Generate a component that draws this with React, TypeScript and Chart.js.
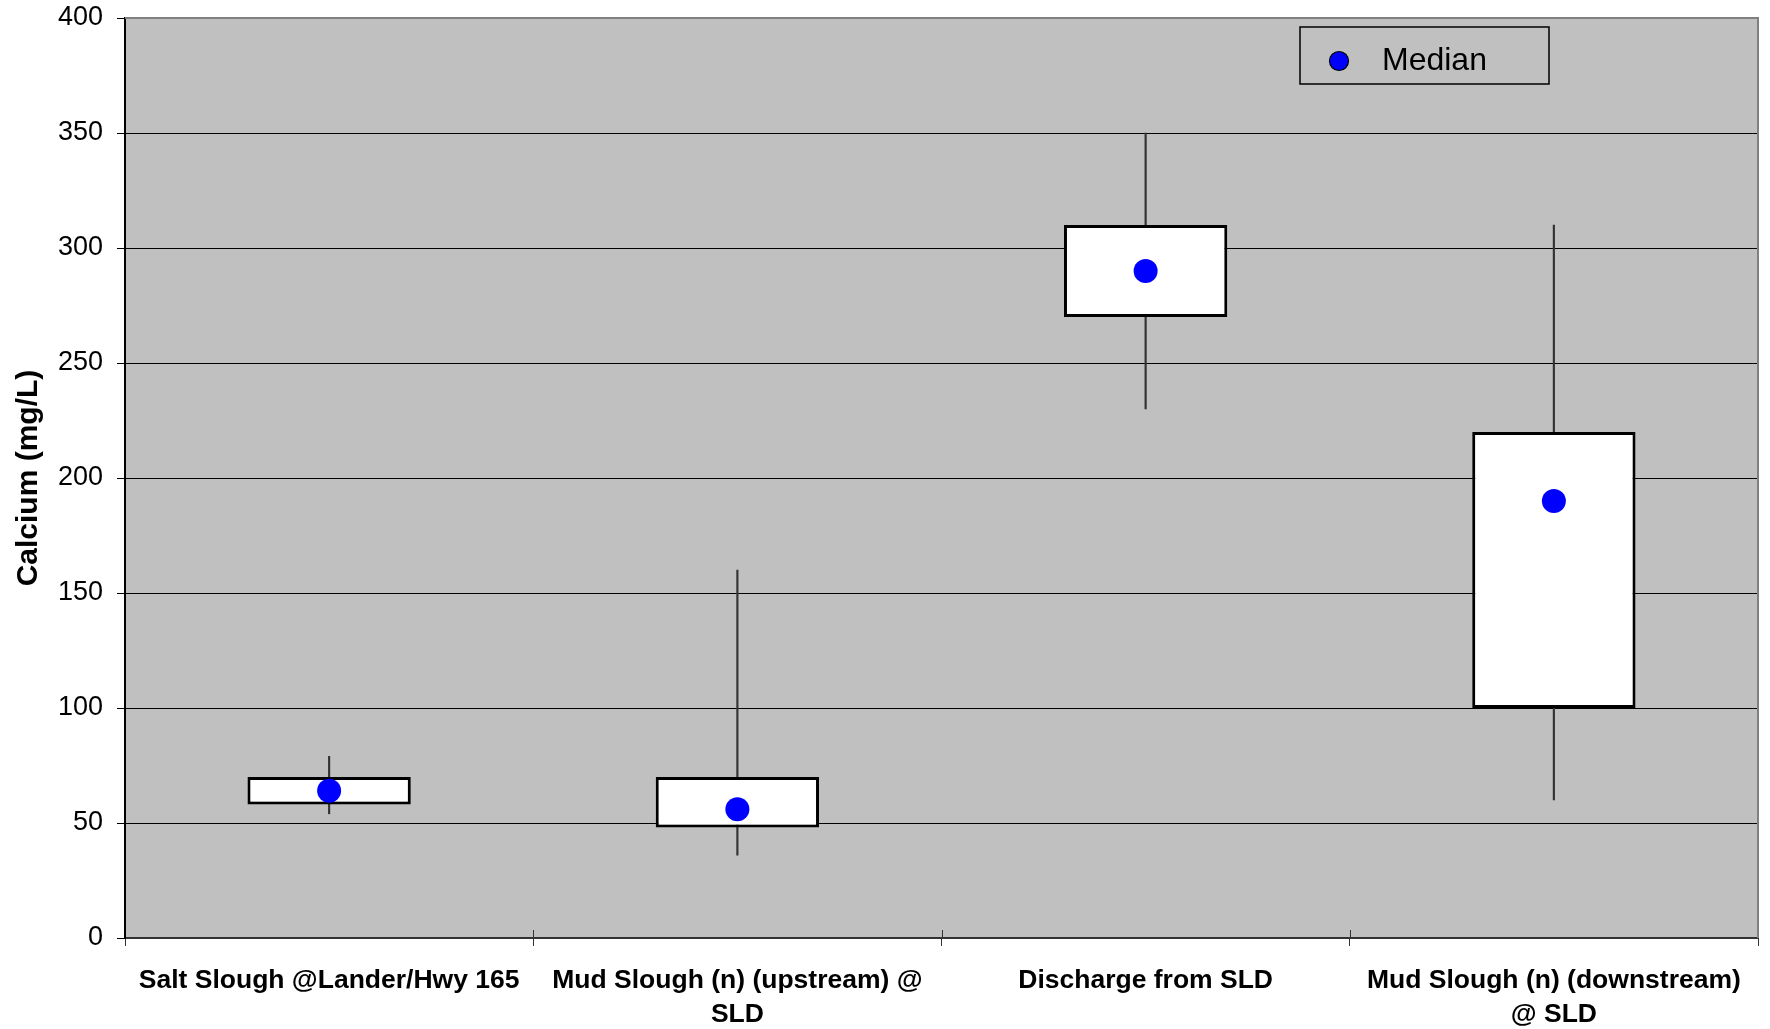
import React, { useEffect, useRef } from 'react';
import { Chart, registerables } from 'chart.js';

Chart.register(...registerables);

const FONT = '"Liberation Sans", Arial, sans-serif';

const categories: (string | string[])[] = [
  'Salt Slough @Lander/Hwy 165',
  ['Mud Slough (n) (upstream) @', 'SLD'],
  'Discharge from SLD',
  ['Mud Slough (n) (downstream)', '@ SLD'],
];
const whiskerMin = [54, 36, 230, 60];
const whiskerMax = [79, 160, 350, 310];
const boxLow = [58, 48, 270, 100];
const boxHigh = [70, 70, 310, 220];
const medians = [64, 56, 290, 190];
const yMin = 0;
const yMax = 400;
const yStep = 50;
const legendLabel = 'Median';

const decorPlugin = {
  id: 'decor',
  beforeDraw(chart: any) {
    const { ctx, chartArea: a } = chart;
    ctx.save();
    ctx.fillStyle = '#C0C0C0';
    ctx.fillRect(a.left, a.top, a.right - a.left, a.bottom - a.top);
    ctx.restore();
  },
  afterDraw(chart: any) {
    const { ctx, chartArea: a } = chart;
    const xs = chart.scales.x;
    ctx.save();
    // top & right border
    ctx.strokeStyle = '#808080';
    ctx.lineWidth = 2;
    ctx.beginPath();
    ctx.moveTo(a.left, a.top);
    ctx.lineTo(a.right, a.top);
    ctx.lineTo(a.right, a.bottom);
    ctx.stroke();
    // inner x tick marks at category boundaries
    ctx.strokeStyle = '#333';
    ctx.lineWidth = 1;
    for (let i = 1; i < categories.length; i++) {
      const px = Math.round((xs.getPixelForValue(i) + xs.getPixelForValue(i - 1)) / 2) + 0.5;
      ctx.beginPath();
      ctx.moveTo(px, a.bottom - 8);
      ctx.lineTo(px, a.bottom);
      ctx.stroke();
    }
    // legend
    const lx = 1300, ly = 27, lw = 249, lh = 57;
    ctx.strokeStyle = '#000';
    ctx.lineWidth = 1.5;
    ctx.strokeRect(lx, ly, lw, lh);
    ctx.beginPath();
    ctx.arc(lx + 39, ly + 34, 9.5, 0, Math.PI * 2);
    ctx.fillStyle = '#0000FF';
    ctx.fill();
    ctx.lineWidth = 1.2;
    ctx.stroke();
    ctx.fillStyle = '#000';
    ctx.font = `32px ${FONT}`;
    ctx.textBaseline = 'middle';
    ctx.textAlign = 'left';
    ctx.fillText(legendLabel, lx + 82, ly + 34);
    ctx.restore();
  },
};

export default function App() {
  const ref = useRef<HTMLCanvasElement | null>(null);

  useEffect(() => {
    if (!ref.current) return;
    const chart = new Chart(ref.current, {
      type: 'bar',
      data: {
        labels: categories as any,
        datasets: [
          {
            type: 'line',
            label: legendLabel,
            data: medians,
            showLine: false,
            pointRadius: 12,
            pointBackgroundColor: '#0000FF',
            pointBorderWidth: 0,
            pointBorderColor: '#0000FF',
            order: 0,
          } as any,
          {
            type: 'bar',
            label: 'Box',
            data: boxLow.map((v, i) => [v, boxHigh[i]]),
            backgroundColor: '#FFFFFF',
            borderColor: '#000000',
            borderWidth: 3,
            borderSkipped: false,
            barPercentage: 0.4,
            categoryPercentage: 1,
            grouped: false,
            order: 1,
          } as any,
          {
            type: 'bar',
            label: 'Range',
            data: whiskerMin.map((v, i) => [v, whiskerMax[i]]),
            backgroundColor: '#333333',
            borderWidth: 0,
            barThickness: 1.5,
            grouped: false,
            order: 2,
          } as any,
        ],
      },
      options: {
        responsive: false,
        animation: false,
        layout: { padding: { top: 18, right: 10, left: 0, bottom: 0 } },
        plugins: { legend: { display: false }, tooltip: { enabled: false } },
        scales: {
          x: {
            type: 'category',
            offset: true,
            grid: {
              offset: true,
              drawOnChartArea: false,
              drawTicks: true,
              tickLength: 8,
              color: '#333',
              lineWidth: 1,
            },
            border: { color: '#333', width: 2 },
            ticks: {
              color: '#000',
              font: { family: FONT, size: 26.5, weight: 'bold', lineHeight: 1.28 },
              padding: 18,
              maxRotation: 0,
              autoSkip: false,
            },
            afterFit: (s: any) => {
              s.height = 91;
            },
          },
          y: {
            min: yMin,
            max: yMax,
            ticks: {
              stepSize: yStep,
              color: '#000',
              font: { family: FONT, size: 27 },
              padding: 14,
            },
            grid: { color: '#000', lineWidth: 1, tickLength: 8, drawTicks: true },
            border: { color: '#000', width: 2 },
            title: {
              display: true,
              text: 'Calcium (mg/L)',
              color: '#000',
              font: { family: FONT, size: 30, weight: 'bold' },
              padding: { top: 11, bottom: 0 },
            },
            afterFit: (s: any) => {
              s.width = 125;
              s.paddingTop = 0;
              s.paddingBottom = 0;
            },
          },
        },
      } as any,
      plugins: [decorPlugin],
    });
    return () => chart.destroy();
  }, []);

  return (
    <div style={{ position: 'absolute', left: 0, top: 0, width: 1770, height: 1029, background: '#fff' }}>
      <canvas ref={ref} width={1770} height={1029} style={{ display: 'block' }} />
    </div>
  );
}
